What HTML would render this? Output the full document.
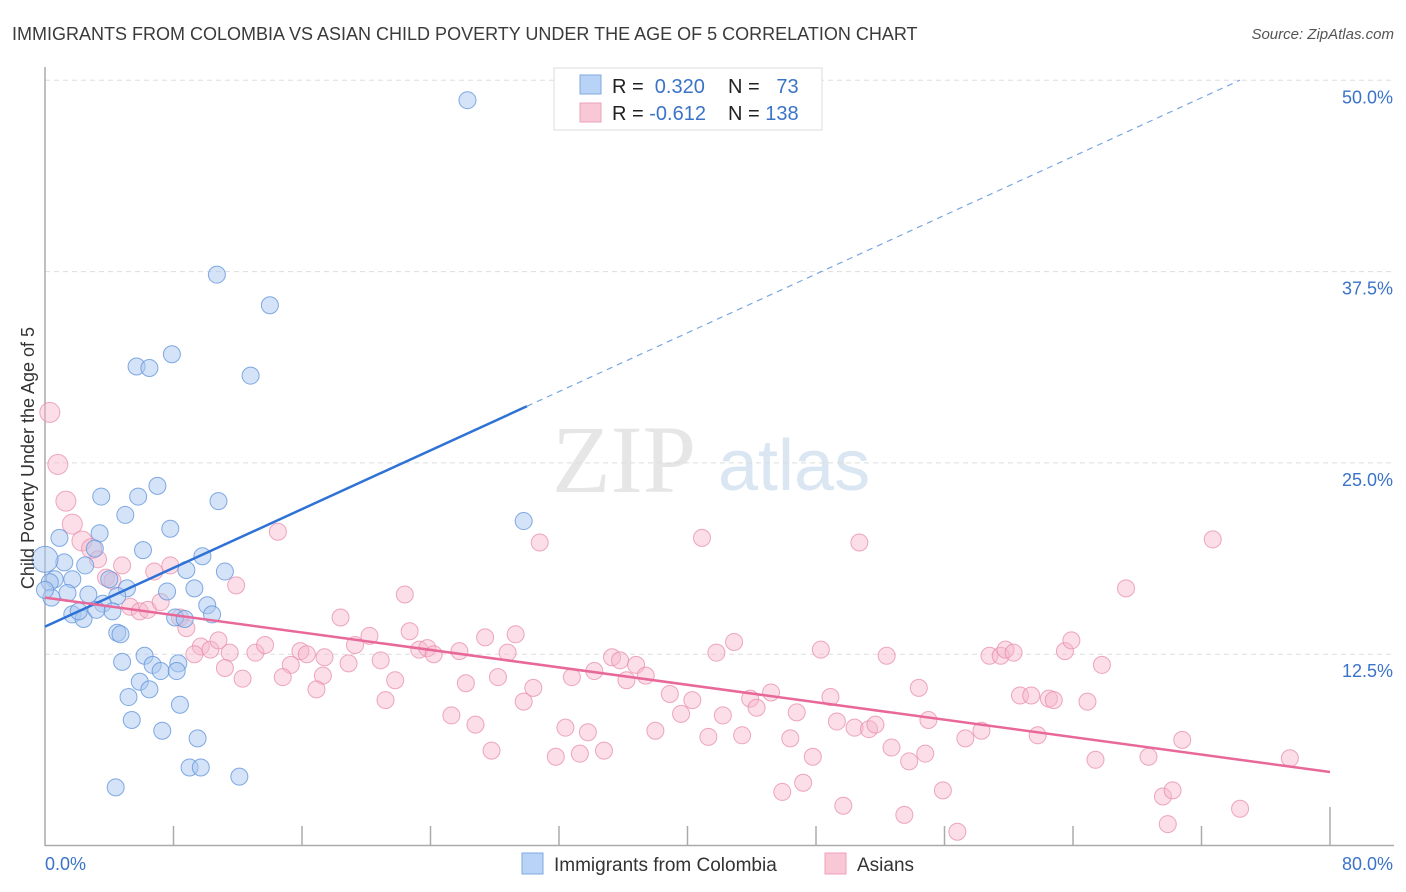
<!DOCTYPE html>
<html><head><meta charset="utf-8"><style>
body{margin:0;background:#fff;font-family:"Liberation Sans",sans-serif}
svg{display:block}
</style></head><body>
<svg id="c" width="1406" height="892" xmlns="http://www.w3.org/2000/svg">
<text x="12" y="40" font-size="18" fill="#3a3a3a">IMMIGRANTS FROM COLOMBIA VS ASIAN CHILD POVERTY UNDER THE AGE OF 5 CORRELATION CHART</text>
<text x="1394" y="39" font-size="15" fill="#555" font-style="italic" text-anchor="end">Source: ZipAtlas.com</text>
<g>
<text x="552" y="492" font-size="96" fill="#e6e6e6" font-family="Liberation Serif,serif">ZIP</text>
<text x="718" y="490" font-size="72" fill="#dbe6f3">atlas</text>
</g>
<g id="grid"></g>
<g id="axes"></g>
<g id="marks"></g>
<text x="0" y="0" transform="translate(34,458) rotate(-90)" text-anchor="middle" font-size="18" fill="#333">Child Poverty Under the Age of 5</text>
<g>
<rect x="554" y="68" width="268" height="62" fill="#fff" stroke="#ddd"/>
<rect x="580" y="75" width="21" height="19" fill="#b8d3f5" stroke="#7fa9e0"/>
<rect x="580" y="103" width="21" height="19" fill="#f9c8d6" stroke="#eea0b8"/>
<text x="612" y="93" font-size="20" fill="#222">R = <tspan fill="#3b73c8">&#160;0.320</tspan></text>
<text x="728" y="93" font-size="20" fill="#222">N = <tspan fill="#3b73c8">&#160;&#160;73</tspan></text>
<text x="612" y="120" font-size="20" fill="#222">R = <tspan fill="#3b73c8">-0.612</tspan></text>
<text x="728" y="120" font-size="20" fill="#222">N = <tspan fill="#3b73c8">138</tspan></text>
</g>
<g>
<rect x="522" y="853" width="21" height="21" fill="#b8d3f5" stroke="#7fa9e0"/>
<text x="554" y="871" font-size="19" fill="#333">Immigrants from Colombia</text>
<rect x="825" y="853" width="21" height="21" fill="#f9c8d6" stroke="#eea0b8"/>
<text x="857" y="871" font-size="19" fill="#333">Asians</text>
</g>
</svg>
<script>
const yTicks=[12.5,25,37.5,50];
const yTickLabels=["12.5%","25.0%","37.5%","50.0%"];
const xTicks=[0,8,16,24,32,40,48,56,64,72,80];
const blueX=[26.3,10.7,14.0,5.7,6.5,7.9,12.8,3.5,5.8,7.0,10.8,5.0,7.8,3.4,0.9,29.8,3.1,6.1,9.8,1.2,2.5,8.8,11.2,4.0,0.6,1.7,0.3,5.1,7.6,9.3,2.7,1.4,0.4,4.5,3.6,10.1,4.2,10.4,1.7,2.4,8.1,8.7,4.5,4.7,6.2,4.8,6.7,8.3,7.2,8.2,5.9,6.5,5.2,8.4,5.4,7.3,9.5,9.0,9.7,12.1,4.4,0.0,2.1,3.2,0.0];
const blueY=[48.7,37.3,35.3,31.3,31.2,32.1,30.7,22.8,22.8,23.5,22.5,21.6,20.7,20.4,20.1,21.2,19.4,19.3,18.9,18.5,18.3,18.0,17.9,17.4,17.4,17.4,17.2,16.8,16.6,16.8,16.4,16.5,16.2,16.3,15.8,15.7,15.3,15.1,15.1,14.8,14.9,14.8,13.9,13.8,12.4,12.0,11.8,11.9,11.4,11.4,10.7,10.2,9.7,9.2,8.2,7.5,7.0,5.1,5.1,4.5,3.8,16.7,15.3,15.4,18.7];
const pinkX=[0.3,0.8,1.3,1.7,2.3,2.9,3.3,4.8,3.8,4.2,6.8,7.8,11.9,14.5,22.4,30.8,40.9,50.7,72.7,67.3,5.3,5.9,6.4,7.2,8.4,8.8,18.4,22.7,29.3,27.4,20.2,9.7,10.3,10.8,9.3,11.5,13.1,13.7,15.9,16.3,15.3,17.4,19.3,18.9,20.9,23.3,23.8,24.2,25.8,28.8,35.3,35.8,36.8,42.9,41.8,48.3,52.4,58.8,59.5,59.8,60.3,63.5,63.9,65.8,11.2,12.3,14.8,17.3,21.8,26.2,28.2,30.4,32.8,34.2,36.2,37.4,38.9,40.3,43.9,44.3,45.2,48.9,54.4,60.7,61.4,62.5,62.8,64.9,16.9,21.2,29.8,39.6,42.2,46.8,49.3,50.4,51.3,51.7,55.0,58.3,25.3,26.8,32.4,33.8,38.0,43.4,41.3,46.4,52.7,57.3,61.8,27.8,31.8,33.3,34.8,47.8,53.8,54.8,65.4,68.7,70.8,77.5,47.2,45.9,49.7,55.9,69.6,70.2,53.5,56.8,69.9,74.4];
const pinkY=[28.3,24.9,22.5,21.0,19.9,19.4,18.7,18.3,17.5,17.3,17.9,18.3,17.0,20.5,16.4,19.8,20.1,19.8,20.0,16.8,15.6,15.3,15.4,15.9,14.9,14.2,14.9,14.0,13.8,13.6,13.7,13.0,12.8,13.4,12.5,12.6,12.6,13.1,12.7,12.5,11.8,12.3,13.1,11.9,12.1,12.8,12.9,12.5,12.7,12.6,12.3,12.1,11.8,13.3,12.6,12.8,12.4,12.4,12.4,12.8,12.6,12.7,13.4,11.8,11.6,10.9,11.0,11.1,10.8,10.6,11.0,10.3,11.0,11.4,10.8,11.1,9.9,9.5,9.6,9.0,10.0,9.7,10.3,9.8,9.8,9.6,9.5,9.4,10.2,9.5,9.4,8.6,8.5,8.7,8.1,7.7,7.6,7.9,8.2,7.5,8.5,7.9,7.7,7.4,7.5,7.2,7.1,7.0,6.4,7.0,7.2,6.2,5.8,6.0,6.2,5.8,5.5,6.0,5.6,5.8,6.9,5.7,4.1,3.5,2.6,3.6,3.2,3.6,2.0,0.9,1.4,2.4];
const blueTrend=[14.3,0.48];
const pinkTrend=[16.2,-0.1425];
const NS="http://www.w3.org/2000/svg";
const X0=45,X1=1330,Y0=845.5,YSC=191.3/12.5;
const sx=v=>X0+(v/80)*(X1-X0);
const sy=v=>Y0-v*YSC;
function mk(tag,attrs,parent){const e=document.createElementNS(NS,tag);for(const k in attrs)e.setAttribute(k,attrs[k]);parent.appendChild(e);return e;}
const grid=document.getElementById('grid'),axes=document.getElementById('axes'),marks=document.getElementById('marks');
yTicks.forEach((t,i)=>{
const l=mk('line',{x1:X0,x2:1394,y1:sy(t),y2:sy(t),stroke:'#ddd','stroke-dasharray':'5,4'},grid);


const tx=mk('text',{x:1393,y:sy(t)+23,'text-anchor':'end','font-size':18,fill:'#3b73c8'},grid);
tx.textContent=yTickLabels[i];


});
const ya=mk('line',{x1:X0,x2:X0,y1:67,y2:846,stroke:'#aaa','stroke-width':1.5},axes);


const xa=mk('line',{x1:X0,x2:1394,y1:845.5,y2:845.5,stroke:'#aaa','stroke-width':1.5},axes);


xTicks.forEach((t,i)=>{
if(i===0)return;
const tk=mk('line',{x1:sx(t),x2:sx(t),y1:(t===80)?807:826,y2:845,stroke:'#aaa','stroke-width':1.5},axes);


});
const xl0=mk('text',{x:45,y:870,'font-size':18,fill:'#3b73c8'},axes);xl0.textContent='0.0%';


const xl1=mk('text',{x:1393,y:870,'font-size':18,fill:'#3b73c8','text-anchor':'end'},axes);xl1.textContent='80.0%';


pinkX.forEach((x,i)=>{
const c=mk('circle',{cx:sx(x),cy:sy(pinkY[i]),r:(x<3?10:8.5),fill:'rgba(246,182,203,0.45)',stroke:'rgba(232,140,170,0.75)','stroke-width':1},marks);


});
blueX.forEach((x,i)=>{
const c=mk('circle',{cx:sx(x),cy:sy(blueY[i]),r:(i===blueX.length-1?13:8.5),fill:'rgba(170,200,240,0.5)',stroke:'rgba(100,150,220,0.8)','stroke-width':1},marks);


});
const bt=mk('line',{x1:sx(0),y1:sy(blueTrend[0]),x2:sx(30),y2:sy(blueTrend[0]+blueTrend[1]*30),stroke:'#2f72d6','stroke-width':2.5},marks);


const bd=mk('line',{x1:sx(30),y1:sy(blueTrend[0]+blueTrend[1]*30),x2:sx(74.4),y2:sy(blueTrend[0]+blueTrend[1]*74.4),stroke:'#7aa6e0','stroke-width':1.2,'stroke-dasharray':'6,5'},marks);


const pt=mk('line',{x1:sx(0),y1:sy(pinkTrend[0]),x2:sx(80),y2:sy(pinkTrend[0]+pinkTrend[1]*80),stroke:'#e8689a','stroke-width':2.5},marks);


</script>
</body></html>
